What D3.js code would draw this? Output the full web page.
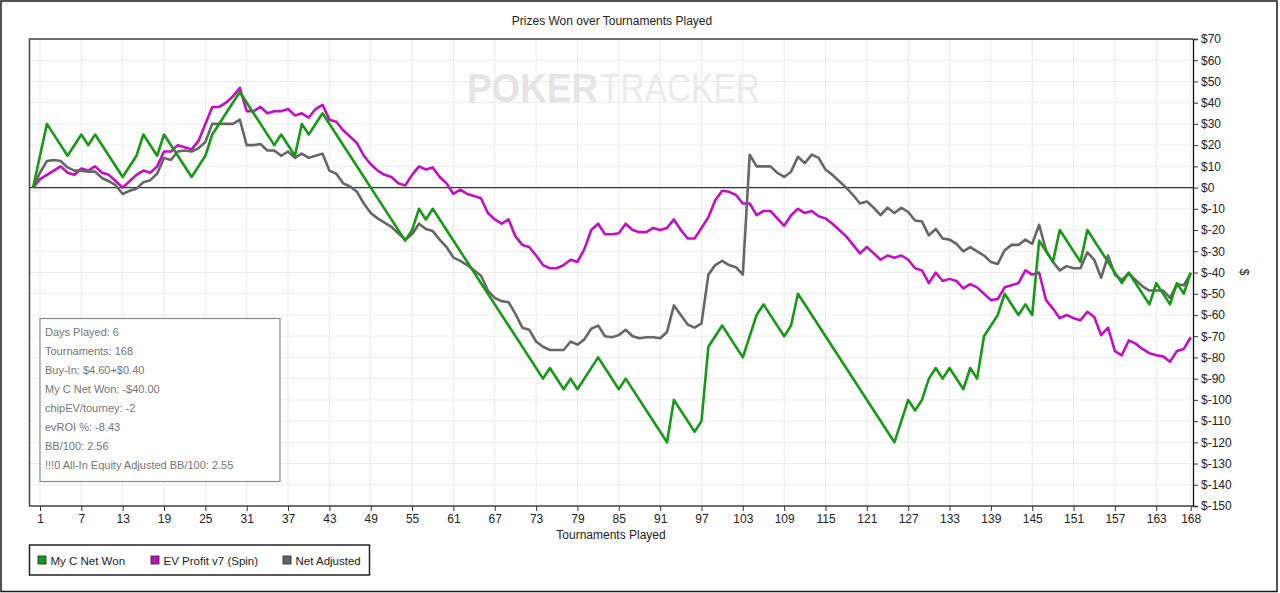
<!DOCTYPE html>
<html>
<head>
<meta charset="utf-8">
<script src="https://cdn.jsdelivr.net/npm/d3@7"></script>
<style>
  body { margin: 0; background: #fff; }
  text { font-family: "Liberation Sans", Arial, sans-serif; }
</style>
</head>
<body>
<div id="chart"></div>
<script>
// tick labels
var xTicks = [1, 7, 13, 19, 25, 31, 37, 43, 49, 55, 61, 67, 73, 79, 85, 91, 97, 103, 109, 115, 121, 127, 133, 139, 145, 151, 157, 163, 168];
var yTicks = [70, 60, 50, 40, 30, 20, 10, 0, -10, -20, -30, -40, -50, -60, -70, -80, -90, -100, -110, -120, -130, -140, -150];

var seriesNames = ["My C Net Won", "EV Profit v7 (Spin)", "Net Adjusted"];
var seriesColors = ["#169a16", "#c30fc3", "#666666"];

// My C Net Won: only the turning points (tournament, value)
var netWonT = [0, 2, 5, 7, 8, 9, 13, 15, 16, 18, 19, 23, 25, 26, 30, 35, 36, 38, 39, 40, 42, 54, 55, 56, 57, 58,
  74, 75, 77, 78, 79, 82, 85, 86, 92, 93, 96, 97, 98, 100, 103, 105, 106, 109, 110, 111, 125, 127, 128, 129, 130,
  131, 132, 133, 135, 136, 137, 138, 140, 141, 143, 144, 145, 146, 148, 149, 152, 153, 158, 159, 162, 163, 165, 166, 167, 168];
var netWonV = [0, 30, 15, 25, 20, 25, 5, 15, 25, 15, 25, 5, 15, 25, 45, 20, 25, 15, 30, 25, 35, -25, -20, -10, -15, -10,
  -90, -85, -95, -90, -95, -80, -95, -90, -120, -100, -115, -110, -75, -65, -80, -60, -55, -70, -65, -50, -120, -100, -105, -100, -90,
  -85, -90, -85, -95, -85, -90, -70, -60, -50, -60, -55, -60, -25, -35, -20, -35, -20, -45, -40, -55, -45, -55, -45, -50, -40];

// EV Profit v7 (Spin), tournaments 0..168
var evProfit = [0, 4, 6, 8, 10, 7, 6, 9, 8, 10,
  7, 6, 3, 0, 3, 6, 8, 7, 10, 17,
  17, 20, 19, 18, 22, 30, 38, 38, 40, 43,
  47, 36, 36, 38, 35, 36, 36, 37, 34, 35,
  33, 37, 39, 32, 31, 27, 24, 21, 15, 11,
  8, 6, 5, 2, 1, 6, 10, 8.5, 9.5, 5,
  2, -3, -1, -3, -4, -5, -12, -15, -17, -15,
  -23, -27, -28, -32, -36.5, -38, -38, -36.5, -34, -35,
  -29, -20, -17, -22, -22, -21.5, -17, -20, -21, -21,
  -19, -20, -19, -15, -20, -24, -24, -19, -14, -6,
  -1.5, -2, -3.5, -7.5, -7.5, -13, -11, -11, -14.5, -18,
  -13, -10, -12, -11, -13.5, -14.5, -17, -20, -23, -27,
  -31, -28, -31, -34, -32, -33, -32, -34, -38, -39,
  -45, -40, -44, -43, -44, -47.5, -45.5, -47, -50, -53,
  -52.5, -47, -46, -45, -39, -41, -40, -53, -57, -61.5,
  -60, -61.5, -62.5, -58.5, -61, -69.5, -66, -77, -79, -72,
  -73.5, -76, -78, -79, -79.5, -82, -77, -76, -70.5];

// Net Adjusted, tournaments 0..168
var netAdjusted = [0, 7, 12.5, 13, 12.5, 9.5, 8, 8, 7.5, 7.5,
  4.5, 3, 1, -3, -1.5, -0.5, 2.5, 3.5, 6.5, 14,
  13, 17, 17.5, 17, 18.5, 21.5, 30, 30, 30, 30,
  32, 20, 20, 20.5, 17.5, 17.5, 15, 17, 14, 16,
  14, 15, 16, 8, 6.5, 2, 0.5, -2, -7.5, -12,
  -14.5, -16.5, -18.5, -21.5, -24.5, -22, -17, -19.5, -20.5, -24.5,
  -28, -33, -34.5, -36.5, -39, -41.5, -48.5, -52, -53.5, -54,
  -59.5, -66, -67, -72.5, -75, -76.5, -76.5, -76.5, -72.5, -74,
  -71.5, -66.5, -65, -70, -70.5, -69.5, -67, -70, -71, -70.5,
  -70.5, -71, -68, -55.5, -60, -64.5, -66, -64, -41, -36.5,
  -34.5, -36.5, -37.5, -41, 15.5, 10, 10, 10, 7, 5,
  7.5, 14.5, 11.5, 15.5, 14, 8.5, 6, 3, 0, -3.5,
  -7.5, -6.5, -9.5, -13, -9.5, -12, -9.5, -11.5, -15.5, -16,
  -22.5, -19.5, -24, -24.5, -26.5, -30, -28, -30, -32, -35,
  -36, -29.5, -27, -27, -24.5, -26.5, -17.5, -29.5, -35, -39,
  -37, -38, -38, -30.5, -34, -42.5, -32, -41, -43.5, -40.5,
  -43.5, -46.5, -48.5, -48.5, -48.5, -52, -45.5, -46, -40.5];

var statLines = ["Days Played: 6", "Tournaments: 168", "Buy-In: $4.60+$0.40", "My C Net Won: -$40.00",
  "chipEV/tourney: -2", "evROI %: -8.43", "BB/100: 2.56", "!!!0 All-In Equity Adjusted BB/100: 2.55"];

var W = 1280, H = 593;
var plot = { left: 29.5, right: 1193, top: 39, bottom: 506 };

var svg = d3.select("#chart").append("svg")
  .attr("width", W)
  .attr("height", H);

// outer frame
svg.append("rect")
  .attr("x", 1).attr("y", 1)
  .attr("width", W - 4).attr("height", H - 2.5)
  .attr("fill", "#fff")
  .attr("stroke", "#1a1a1a")
  .attr("stroke-width", 1.5);

var x = d3.scaleLinear().domain([0, 168]).range([33.1, 1190.7]);
var y = d3.scaleLinear().domain([-150, 70]).range([plot.bottom, plot.top]);

// grid
svg.append("g").selectAll("line")
  .data(xTicks)
  .enter().append("line")
  .attr("x1", function(d) { return x(d); })
  .attr("x2", function(d) { return x(d); })
  .attr("y1", plot.top)
  .attr("y2", plot.bottom)
  .attr("stroke", "#ebebeb");

svg.append("g").selectAll("line")
  .data(yTicks)
  .enter().append("line")
  .attr("x1", plot.left)
  .attr("x2", plot.right)
  .attr("y1", function(d) { return y(d); })
  .attr("y2", function(d) { return y(d); })
  .attr("stroke", "#ebebeb");

// watermark
var wm = svg.append("g").attr("class", "watermark");
wm.append("text")
  .attr("x", 467).attr("y", 102)
  .attr("textLength", 131)
  .attr("lengthAdjust", "spacingAndGlyphs")
  .attr("font-size", 41)
  .attr("font-weight", "bold")
  .attr("fill", "#e4e4e4")
  .text("POKER");
wm.append("text")
  .attr("x", 600).attr("y", 102)
  .attr("textLength", 160)
  .attr("lengthAdjust", "spacingAndGlyphs")
  .attr("font-size", 41)
  .attr("font-family", "Lato, sans-serif")
  .attr("font-weight", 300)
  .attr("fill", "#eaeaea")
  .text("TRACKER");

// zero line
svg.append("line")
  .attr("x1", plot.left).attr("x2", plot.right)
  .attr("y1", y(0)).attr("y2", y(0))
  .attr("stroke", "#333")
  .attr("stroke-width", 1.3);

// plot frame
svg.append("path")
  .attr("d", "M" + plot.right + "," + plot.top + "H" + plot.left + "V" + plot.bottom + "H" + plot.right)
  .attr("fill", "none")
  .attr("stroke", "#444")
  .attr("stroke-width", 1.5);

// right axis
var yAxis = d3.axisRight(y)
  .tickValues(yTicks)
  .tickSize(5)
  .tickPadding(3)
  .tickFormat(function(d) { return "$" + d; });

var gy = svg.append("g")
  .attr("transform", "translate(" + plot.right + ",0)")
  .call(yAxis);
gy.select(".domain").attr("stroke", "#111").attr("stroke-width", 1.3);
gy.selectAll(".tick line").attr("stroke", "#333");
gy.selectAll(".tick text")
  .attr("font-family", "Liberation Sans, Arial, sans-serif")
  .attr("font-size", 12)
  .attr("fill", "#222");

// bottom axis
var xAxis = d3.axisBottom(x)
  .tickValues(xTicks)
  .tickSize(5)
  .tickPadding(3)
  .tickSizeOuter(0);

var gx = svg.append("g")
  .attr("transform", "translate(0," + plot.bottom + ")")
  .call(xAxis);
gx.select(".domain").remove();
gx.selectAll(".tick line").attr("stroke", "#333");
gx.selectAll(".tick text")
  .attr("font-family", "Liberation Sans, Arial, sans-serif")
  .attr("font-size", 12)
  .attr("fill", "#222");

// titles
svg.append("text")
  .attr("x", 612).attr("y", 25)
  .attr("text-anchor", "middle")
  .attr("font-size", 12)
  .attr("fill", "#222")
  .text("Prizes Won over Tournaments Played");

svg.append("text")
  .attr("x", 611).attr("y", 539)
  .attr("text-anchor", "middle")
  .attr("font-size", 12)
  .attr("fill", "#222")
  .text("Tournaments Played");

svg.append("text")
  .attr("transform", "translate(1240,272) rotate(90)")
  .attr("text-anchor", "middle")
  .attr("font-size", 12)
  .attr("fill", "#222")
  .text("$");

// lines
var line = d3.line()
  .x(function(d) { return x(d[0]); })
  .y(function(d) { return y(d[1]); });

var evPts = evProfit.map(function(v, i) { return [i, v]; });
var adjPts = netAdjusted.map(function(v, i) { return [i, v]; });
var wonPts = netWonT.map(function(t, i) { return [t, netWonV[i]]; });

[[evPts, seriesColors[1]], [adjPts, seriesColors[2]], [wonPts, seriesColors[0]]].forEach(function(s) {
  svg.append("path")
    .datum(s[0])
    .attr("d", line)
    .attr("fill", "none")
    .attr("stroke", s[1])
    .attr("stroke-width", 2.6)
    .attr("stroke-linejoin", "round");
});

// stats box
var stats = svg.append("g");
stats.append("rect")
  .attr("x", 40).attr("y", 318.5)
  .attr("width", 240).attr("height", 163)
  .attr("fill", "#fff")
  .attr("fill-opacity", 0.92)
  .attr("stroke", "#8a8a8a")
  .attr("stroke-width", 1.2);
stats.selectAll("text")
  .data(statLines)
  .enter().append("text")
  .attr("x", 45)
  .attr("y", function(d, i) { return 335.5 + i * 19.1; })
  .attr("font-family", "Open Sans, sans-serif")
  .attr("font-size", 11)
  .attr("fill", "#747474")
  .text(function(d) { return d; });

// legend
var legend = svg.append("g");
legend.append("rect")
  .attr("x", 29.5).attr("y", 545)
  .attr("width", 340).attr("height", 30)
  .attr("fill", "#fff")
  .attr("stroke", "#222")
  .attr("stroke-width", 1.5);

var legendX = [38, 151, 283];
var items = legend.selectAll(".item")
  .data(seriesNames)
  .enter().append("g")
  .attr("class", "item")
  .attr("transform", function(d, i) { return "translate(" + legendX[i] + ",556)"; });
items.append("rect")
  .attr("width", 8).attr("height", 8)
  .attr("fill", function(d, i) { return seriesColors[i]; })
  .attr("stroke", "#222")
  .attr("stroke-width", 0.8);
items.append("text")
  .attr("x", 12.5).attr("y", 8.5)
  .attr("font-size", 11.5)
  .attr("fill", "#222")
  .text(function(d) { return d; });
</script>
</body>
</html>
